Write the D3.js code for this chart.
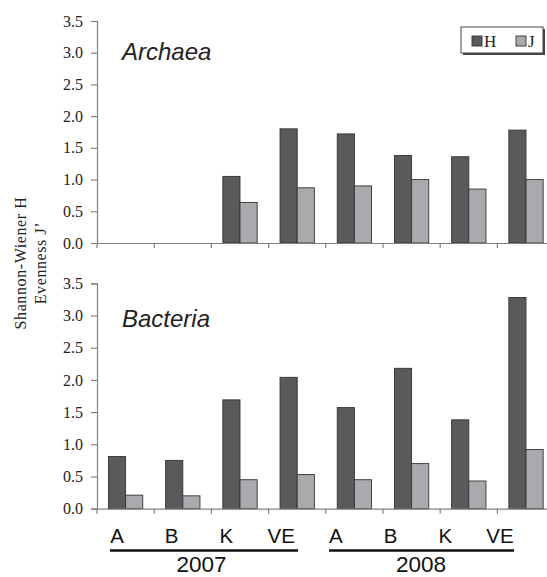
<!DOCTYPE html>
<html>
<head>
<meta charset="utf-8">
<script src="https://cdnjs.cloudflare.com/ajax/libs/d3/7.8.5/d3.min.js"></script>
<style>
  html, body { margin: 0; padding: 0; background: #fff; }
  svg { display: block; }
</style>
</head>
<body>
<svg id="chart" width="547" height="577"></svg>
<script>
// ---- data ----
const categories = ["A 2007", "B 2007", "K 2007", "VE 2007", "A 2008", "B 2008", "K 2008", "VE 2008"];
const siteLabels = ["A", "B", "K", "VE", "A", "B", "K", "VE"];
const years = ["2007", "2008"];
const seriesNames = ["H", "J"];
const archaeaH = [0, 0, 1.05, 1.80, 1.72, 1.38, 1.36, 1.78];
const archaeaJ = [0, 0, 0.64, 0.87, 0.90, 1.00, 0.85, 1.00];
const bacteriaH = [0.81, 0.75, 1.69, 2.04, 1.57, 2.18, 1.38, 3.28];
const bacteriaJ = [0.21, 0.20, 0.45, 0.53, 0.45, 0.70, 0.43, 0.92];
const yTicks = [0, 0.5, 1.0, 1.5, 2.0, 2.5, 3.0, 3.5];

const svg = d3.select("#chart");
const colors = { H: "#5a5a5c", J: "#a9aaad" };
const axisColor = "#808080";
const serif = "'Liberation Serif','Times New Roman',serif";
const sans = "'Liberation Sans',Arial,sans-serif";

const left = 97, catW = 57.2;
const x0 = d3.scaleBand().domain(categories).range([left, left + catW * categories.length]);
const x1 = d3.scaleBand().domain(seriesNames).range([catW * 0.2, catW * 0.8]);

const panels = [
  { title: "Archaea", H: archaeaH, J: archaeaJ, y0: 243, y1: 21, titleY: 60, legend: true },
  { title: "Bacteria", H: bacteriaH, J: bacteriaJ, y0: 508.7, y1: 283.3, titleY: 326.7, legend: false }
];

panels.forEach(p => {
  const y = d3.scaleLinear().domain([0, 3.5]).range([p.y0, p.y1]);
  const g = svg.append("g");

  // bars
  const rows = categories.map((c, i) => ({ c, H: p.H[i], J: p.J[i] }));
  const grp = g.selectAll("g.cat").data(rows).join("g")
    .attr("transform", d => `translate(${x0(d.c)},0)`);
  grp.selectAll("rect").data(d => seriesNames.map(s => ({ s, v: d[s] })).filter(e => e.v > 0)).join("rect")
    .attr("x", d => x1(d.s))
    .attr("width", x1.bandwidth())
    .attr("y", d => y(d.v))
    .attr("height", d => y(0) - y(d.v))
    .attr("fill", d => colors[d.s])
    .attr("stroke", "#333")
    .attr("stroke-width", 0.9);

  // y axis
  const ya = g.append("g").attr("transform", `translate(${left},0)`)
    .call(d3.axisLeft(y).tickValues(yTicks).tickFormat(d3.format(".1f")).tickSize(6).tickPadding(8));
  ya.select(".domain").attr("stroke", axisColor).attr("stroke-width", 1.2);
  ya.selectAll(".tick line").attr("stroke", axisColor).attr("stroke-width", 1.2);
  ya.selectAll(".tick text").attr("font-family", serif).attr("font-size", 16).attr("fill", "#222");

  // x axis
  const xa = g.append("g").attr("transform", `translate(0,${p.y0})`)
    .call(d3.axisBottom(x0).tickSize(0).tickFormat(""));
  xa.select(".domain").attr("stroke", axisColor).attr("stroke-width", 1.2);
  const bounds = categories.map(c => x0(c)).concat([x0.range()[1]]);
  xa.selectAll("line.bound").data(bounds).join("line").attr("class", "bound")
    .attr("x1", d => d).attr("x2", d => d).attr("y1", 0).attr("y2", 5)
    .attr("stroke", axisColor).attr("stroke-width", 1.2);

  // title
  g.append("text").attr("x", 122).attr("y", p.titleY)
    .attr("font-family", sans).attr("font-style", "italic").attr("font-size", 24).attr("fill", "#222")
    .text(p.title);

  if (p.legend) {
    const lg = g.append("g").attr("transform", "translate(461,27)");
    lg.append("rect").attr("x", 2).attr("y", 2).attr("width", 82).attr("height", 26).attr("fill", "#444");
    lg.append("rect").attr("x", 0).attr("y", 0).attr("width", 82).attr("height", 26)
      .attr("fill", "#fff").attr("stroke", "#444").attr("stroke-width", 1);
    seriesNames.forEach((s, i) => {
      const ox = 11 + i * 44;
      lg.append("rect").attr("x", ox).attr("y", 9).attr("width", 10).attr("height", 10)
        .attr("fill", colors[s]).attr("stroke", "#333").attr("stroke-width", 0.9);
      lg.append("text").attr("x", ox + 12).attr("y", 20)
        .attr("font-family", serif).attr("font-size", 17).attr("fill", "#222").text(s);
    });
  }
});

// category labels under bottom panel
const lx = d3.scalePoint().domain(categories).range([117, 500]);
svg.append("g").selectAll("text").data(categories).join("text")
  .attr("x", d => lx(d)).attr("y", 543)
  .attr("text-anchor", "middle").attr("font-family", sans).attr("font-size", 20.5).attr("fill", "#111")
  .text((d, i) => siteLabels[i]);

// year lines and labels
const yearSpans = [[110, 298], [329, 514]];
years.forEach((yr, i) => {
  const [a, b] = yearSpans[i];
  svg.append("line").attr("x1", a).attr("x2", b).attr("y1", 550.5).attr("y2", 550.5)
    .attr("stroke", "#111").attr("stroke-width", 2.5);
  svg.append("text").attr("x", (a + b) / 2 + (i === 0 ? -2.5 : -0.5)).attr("y", 572)
    .attr("text-anchor", "middle").attr("font-family", sans).attr("font-size", 22.5).attr("fill", "#111")
    .text(yr);
});

// y axis label
const yl = svg.append("text").attr("transform", "translate(26,263) rotate(-90)")
  .attr("text-anchor", "middle").attr("font-family", serif).attr("font-size", 16).attr("fill", "#222")
  .attr("letter-spacing", 0.6);
yl.append("tspan").attr("x", 0).attr("dy", 0).text("Shannon-Wiener H");
yl.append("tspan").attr("x", 0).attr("dy", 19.5).text("Evenness J’");
</script>
</body>
</html>
